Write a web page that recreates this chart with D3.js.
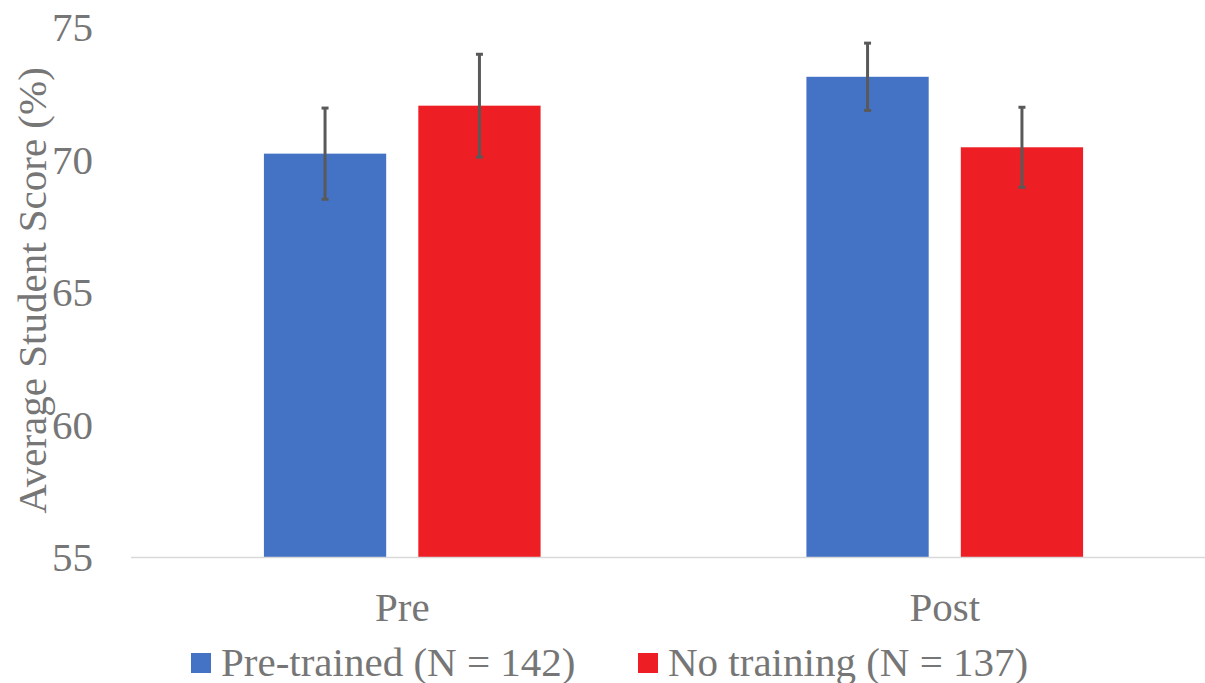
<!DOCTYPE html>
<html><head><meta charset="utf-8"><script src="https://cdn.jsdelivr.net/npm/d3@7"></script></head>
<body style="margin:0">
<svg id="chart" width="1205" height="683"></svg>
<script>
const categories = ["Pre", "Post"];
const seriesNames = ["Pre-trained (N = 142)", "No training (N = 137)"];
const seriesColors = ["#4472C4", "#EE1F24"];
const preTrained = [70.24, 73.14];
const noTraining = [72.05, 70.48];
const preTrainedErr = [1.72, 1.27];
const noTrainingErr = [1.94, 1.51];
const yTicks = [55, 60, 65, 70, 75];
const yTitle = "Average Student Score (%)";

const values = [preTrained, noTraining];
const errs = [preTrainedErr, noTrainingErr];
const TXT = "#767676";
const FS = 41;
const FONT = '"Times New Roman"';

const svg = d3.select("#chart");
const W = 1205;
const plotLeft = 131, plotRight = 1216;
const plotTop = 27.5, plotBottom = 557.5;

const y = d3.scaleLinear().domain([55, 75]).range([plotBottom, plotTop]);
const x0 = d3.scaleBand().domain(categories).range([plotLeft, plotRight]).paddingInner(0.49).paddingOuter(0.245);
const x1 = d3.scaleBand().domain(d3.range(seriesNames.length)).range([0, x0.bandwidth()]).paddingInner(0.208);

function styleText(sel) {
  return sel.attr("font-size", FS).style("font-family", FONT).attr("fill", TXT);
}

// y tick labels (drawn from the scale's ticks, no axis line)
styleText(svg.append("g").selectAll("text").data(yTicks).join("text")
  .attr("x", 93).attr("y", d => y(d)).attr("dy", "0.34em")
  .attr("text-anchor", "end").text(d => d));

// bars
const groups = svg.append("g").selectAll("g").data(categories).join("g")
  .attr("transform", d => `translate(${x0(d)},0)`);

groups.each(function(cat, ci) {
  const g = d3.select(this);
  seriesNames.forEach((s, si) => {
    const v = values[si][ci];
    g.append("rect")
      .attr("x", x1(si)).attr("width", x1.bandwidth())
      .attr("y", y(v)).attr("height", y(55) - y(v))
      .attr("fill", seriesColors[si]);
  });
});

// x axis line
svg.append("line").attr("x1", plotLeft).attr("x2", W).attr("y1", y(55)).attr("y2", y(55))
  .attr("stroke", "#d9d9d9").attr("stroke-width", 1.5);

// error bars
groups.each(function(cat, ci) {
  const g = d3.select(this);
  seriesNames.forEach((s, si) => {
    const v = values[si][ci], e = errs[si][ci];
    const cx = x1(si) + x1.bandwidth() / 2;
    g.append("line").attr("x1", cx).attr("x2", cx).attr("y1", y(v + e)).attr("y2", y(v - e))
      .attr("stroke", "#595959").attr("stroke-width", 3);
    [v + e, v - e].forEach(t => {
      g.append("line").attr("x1", cx - 3.5).attr("x2", cx + 3.5).attr("y1", y(t)).attr("y2", y(t))
        .attr("stroke", "#595959").attr("stroke-width", 3);
    });
  });
});

// category labels
styleText(svg.append("g").selectAll("text").data(categories).join("text")
  .attr("x", d => x0(d) + x0.bandwidth() / 2).attr("y", 621)
  .attr("text-anchor", "middle").text(d => d));

// y title
styleText(svg.append("text").attr("transform", `translate(46,${(68 + 513) / 2}) rotate(-90)`)
  .attr("text-anchor", "middle").text(yTitle));

// legend
const legendX = [191, 638];
seriesNames.forEach((s, i) => {
  svg.append("rect").attr("x", legendX[i]).attr("y", 653).attr("width", 20).attr("height", 20)
    .attr("fill", seriesColors[i]);
  styleText(svg.append("text").attr("x", legendX[i] + 30).attr("y", 676).text(s));
});
</script>
</body>
</html>
